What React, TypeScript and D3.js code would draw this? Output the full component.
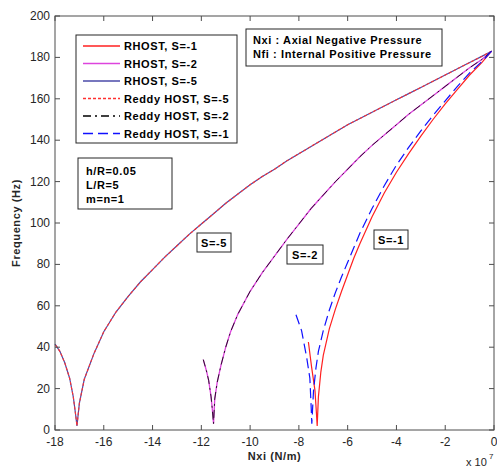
import React from "react";
import * as d3 from "d3";

// ---- data (Nxi in units of 1e7 N/m, frequency in Hz) ----
const xTicks = [-18, -16, -14, -12, -10, -8, -6, -4, -2, 0];
const yTicks = [0, 20, 40, 60, 80, 100, 120, 140, 160, 180, 200];

const s5N = [-0.1, -0.5, -1, -1.5, -2, -2.5, -3, -3.5, -4, -4.5, -5, -5.5, -6, -6.5, -7, -7.5, -8, -8.5, -9, -9.5, -10, -10.5, -11, -11.5, -12, -12.5, -13, -13.5, -14, -14.5, -15, -15.5, -16, -16.4, -16.8, -17, -17.1, -17.15, -17.25, -17.4, -17.6, -17.8, -18];
const s5F = [183, 180.5, 177.5, 174.5, 171.5, 168.5, 165.5, 162.5, 159.5, 156.5, 153.5, 150.5, 147.5, 144, 140.5, 137, 133.5, 130, 126, 122.5, 118.5, 114, 109.5, 104.5, 99.5, 94.5, 89, 83.5, 77.5, 71.5, 64.5, 57, 47.5, 37, 24.5, 13, 2, 7, 16, 25, 32.5, 38, 41.5];

const s2N = [-0.1, -0.5, -1, -1.5, -2, -2.5, -3, -3.5, -4, -4.5, -5, -5.5, -6, -6.5, -7, -7.5, -8, -8.5, -9, -9.5, -10, -10.5, -10.8, -11, -11.2, -11.35, -11.45, -11.5, -11.55, -11.6, -11.7, -11.8, -11.92];
const s2F = [183, 179, 175, 170.5, 166, 161.5, 157, 152.5, 147.5, 142.5, 137.5, 132, 126, 120, 113.5, 107, 99.5, 92, 84, 76, 67, 56, 47.5, 40, 31, 23, 15, 3, 10, 16, 24, 29, 34];

const s1RhostN = [-0.1, -0.5, -1, -1.5, -2, -2.5, -3, -3.5, -4, -4.5, -5, -5.5, -5.75, -6, -6.25, -6.5, -6.75, -7, -7.1, -7.2, -7.25, -7.28, -7.34, -7.48, -7.61];
const s1RhostF = [183, 177.5, 171.5, 164.5, 157.5, 150, 142, 133.5, 124.5, 114.5, 103, 90, 83, 75, 67, 58.5, 49, 36, 28, 16, 2, 8, 19, 30.5, 42.5];

const s1ReddyN = [-0.1, -0.5, -1, -1.5, -2, -2.5, -3, -3.5, -4, -4.5, -5, -5.5, -5.75, -6, -6.25, -6.5, -6.75, -7, -7.2, -7.3, -7.4, -7.47, -7.5, -7.55, -7.68, -7.89, -8.16];
const s1ReddyF = [183, 178, 172.5, 166, 159, 152, 144.5, 136.5, 128, 118, 107, 95, 88, 81, 74, 66.5, 58, 48, 38, 30, 19, 3, 12, 25, 35, 48, 57];

const legendLabels = ["RHOST, S=-1", "RHOST, S=-2", "RHOST, S=-5", "Reddy HOST, S=-5", "Reddy HOST, S=-2", "Reddy HOST, S=-1"];

type Series = { label: string; n: number[]; f: number[]; color: string; dash: string; w: number };

const series: Series[] = [
  { label: legendLabels[2], n: s5N, f: s5F, color: "#4a4aa8", dash: "", w: 1.2 },
  { label: legendLabels[1], n: s2N, f: s2F, color: "#dd44dd", dash: "", w: 1.3 },
  { label: legendLabels[0], n: s1RhostN, f: s1RhostF, color: "#ff2020", dash: "", w: 1.2 },
  { label: legendLabels[3], n: s5N, f: s5F, color: "#ff3030", dash: "3,2", w: 1.1 },
  { label: legendLabels[4], n: s2N, f: s2F, color: "#000000", dash: "8,4,2,4", w: 0.8 },
  { label: legendLabels[5], n: s1ReddyN, f: s1ReddyF, color: "#1010ff", dash: "10,5", w: 1.2 },
];

const legendOrder = [2, 1, 0, 3, 4, 5];

const W = 497, H = 467;
const L = 55, R = 494, T = 16, B = 430;
const font = "'Liberation Sans', Arial, sans-serif";
const LS = 0.6;

export default function App() {
  const x = d3.scaleLinear().domain([-18, 0]).range([L, R]);
  const y = d3.scaleLinear().domain([0, 200]).range([B, T]);

  const mkLine = (s: Series) =>
    d3.line<number>().x((_, i) => x(s.n[i])).y((_, i) => y(s.f[i]))(s.n) || "";

  const legendY0 = 46, legendDy = 17.5;

  return (
    <svg width={W} height={H} style={{ position: "absolute", left: 0, top: 0, background: "#fff" }} fontFamily={font}>
      <rect x={0} y={0} width={W} height={H} fill="#fff" />
      {/* curves */}
      <g fill="none">
        {series.map((s, i) => (
          <path key={i} d={mkLine(s)} stroke={s.color} strokeWidth={s.w} strokeDasharray={s.dash || undefined} />
        ))}
      </g>
      {/* axes box */}
      <rect x={L} y={T} width={R - L} height={B - T} fill="none" stroke="#4d4d4d" strokeWidth={1} />
      {xTicks.map((t) => (
        <g key={"x" + t}>
          <line x1={x(t)} x2={x(t)} y1={B} y2={B - 5} stroke="#4d4d4d" />
          <line x1={x(t)} x2={x(t)} y1={T} y2={T + 5} stroke="#4d4d4d" />
          <text x={x(t)} y={446} fontSize={12} textAnchor="middle" fill="#262626">{t}</text>
        </g>
      ))}
      {yTicks.map((t) => (
        <g key={"y" + t}>
          <line x1={L} x2={L + 5} y1={y(t)} y2={y(t)} stroke="#4d4d4d" />
          <line x1={R} x2={R - 5} y1={y(t)} y2={y(t)} stroke="#4d4d4d" />
          <text x={50} y={y(t) + 4} fontSize={12} textAnchor="end" fill="#262626">{t}</text>
        </g>
      ))}
      <text x={(L + R) / 2} y={460} fontSize={11} fontWeight="bold" letterSpacing={LS} textAnchor="middle" fill="#262626">Nxi (N/m)</text>
      <text transform={`translate(20,${(T + B) / 2}) rotate(-90)`} fontSize={11} fontWeight="bold" letterSpacing={LS} textAnchor="middle" fill="#262626">Frequency (Hz)</text>
      <text x={466} y={466} fontSize={11} fill="#262626">x 10</text>
      <text x={489} y={459} fontSize={8} fill="#262626">7</text>

      {/* legend */}
      <rect x={76} y={35} width={161} height={108} fill="#fff" stroke="#262626" strokeWidth={1} />
      {legendOrder.map((si, k) => {
        const s = series[si];
        const yy = legendY0 + k * legendDy;
        return (
          <g key={"l" + k}>
            <line x1={83} x2={120} y1={yy} y2={yy} stroke={s.color} strokeWidth={1.3} strokeDasharray={s.dash || undefined} />
            <text x={124} y={yy + 4} fontSize={11} fontWeight="bold" letterSpacing={LS} fill="#000">{s.label}</text>
          </g>
        );
      })}

      {/* definitions box */}
      <rect x={246} y={29} width={196} height={37} fill="#fff" stroke="#262626" />
      <text x={253} y={44} fontSize={11} fontWeight="bold" letterSpacing={LS}>Nxi : Axial Negative Pressure</text>
      <text x={253} y={58} fontSize={11} fontWeight="bold" letterSpacing={LS}>Nfi : Internal Positive Pressure</text>

      {/* parameters box */}
      <rect x={78} y={158} width={94} height={51} fill="#fff" stroke="#262626" />
      <text x={86} y={175} fontSize={11} fontWeight="bold" letterSpacing={LS}>h/R=0.05</text>
      <text x={86} y={189} fontSize={11} fontWeight="bold" letterSpacing={LS}>L/R=5</text>
      <text x={86} y={203} fontSize={11} fontWeight="bold" letterSpacing={LS}>m=n=1</text>

      {/* curve labels */}
      <rect x={197} y={233} width={34} height={19} fill="#fff" stroke="#262626" />
      <text x={214} y={246.5} fontSize={11} fontWeight="bold" letterSpacing={LS} textAnchor="middle">S=-5</text>
      <rect x={287} y={245} width={36} height={19} fill="#fff" stroke="#262626" />
      <text x={305} y={258.5} fontSize={11} fontWeight="bold" letterSpacing={LS} textAnchor="middle">S=-2</text>
      <rect x={374} y={230} width={34} height={19} fill="#fff" stroke="#262626" />
      <text x={391} y={243.5} fontSize={11} fontWeight="bold" letterSpacing={LS} textAnchor="middle">S=-1</text>
    </svg>
  );
}
